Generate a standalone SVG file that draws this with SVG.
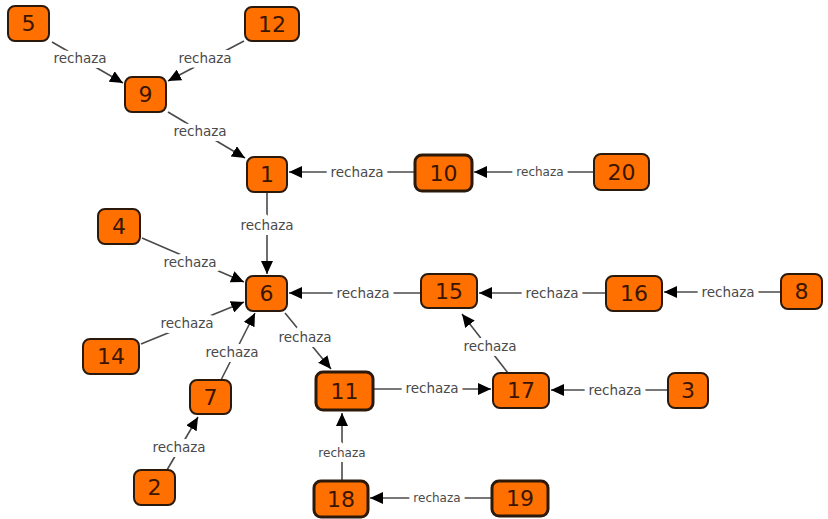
<svg xmlns="http://www.w3.org/2000/svg" width="828" height="519" viewBox="0 0 828 519">
  <style>
    .node rect { fill: #ff7000; stroke: #2b1a0c; stroke-width: 2; }
    .node.thick rect { stroke-width: 3; }
    .node text { font-family: "DejaVu Sans", Verdana, sans-serif; font-size: 22px; fill: #3a1500; text-anchor: middle; dominant-baseline: central; }
    .edge line { stroke: #4a4a4a; stroke-width: 1.6; marker-end: url(#arrow); }
    .edge text { font-family: "DejaVu Sans", Verdana, sans-serif; font-size: 13.5px; fill: #4a4a4a; text-anchor: middle; dominant-baseline: central; stroke: #ffffff; stroke-width: 10; paint-order: stroke; stroke-linejoin: round; }
    .edge text.sm { font-size: 12px; }
  </style>
  <defs>
    <marker id="arrow" markerUnits="userSpaceOnUse" markerWidth="14" markerHeight="12" refX="13" refY="6" orient="auto">
      <path d="M0,0 L13,6 L0,12 z" fill="#000"/>
    </marker>
  </defs>
  <rect width="828" height="519" fill="#ffffff"/>

  <g id="connectors">
    <g class="edge"><line x1="52" y1="42" x2="123" y2="83"/><text x="80" y="58">rechaza</text></g>
    <g class="edge"><line x1="244" y1="41" x2="168" y2="81"/><text x="205" y="58">rechaza</text></g>
    <g class="edge"><line x1="168" y1="112" x2="245" y2="158"/><text x="200" y="131">rechaza</text></g>
    <g class="edge"><line x1="414" y1="172" x2="289" y2="172"/><text x="357" y="172">rechaza</text></g>
    <g class="edge"><line x1="593" y1="172" x2="474" y2="172"/><text class="sm" x="540" y="172">rechaza</text></g>
    <g class="edge"><line x1="267" y1="193" x2="267" y2="274"/><text x="267" y="225">rechaza</text></g>
    <g class="edge"><line x1="142" y1="238" x2="244" y2="282"/><text x="190" y="262">rechaza</text></g>
    <g class="edge"><line x1="141" y1="344" x2="244" y2="302"/><text x="187" y="323">rechaza</text></g>
    <g class="edge"><line x1="221" y1="380" x2="255" y2="313"/><text x="232" y="352">rechaza</text></g>
    <g class="edge"><line x1="167" y1="470" x2="198" y2="417"/><text x="179" y="447">rechaza</text></g>
    <g class="edge"><line x1="285" y1="313" x2="331" y2="369"/><text x="305" y="337">rechaza</text></g>
    <g class="edge"><line x1="421" y1="293" x2="289" y2="293"/><text x="363" y="293">rechaza</text></g>
    <g class="edge"><line x1="606" y1="293" x2="479" y2="293"/><text x="552" y="293">rechaza</text></g>
    <g class="edge"><line x1="781" y1="292" x2="664" y2="292"/><text x="728" y="292">rechaza</text></g>
    <g class="edge"><line x1="374" y1="389" x2="491" y2="389"/><text x="432" y="388">rechaza</text></g>
    <g class="edge"><line x1="668" y1="390" x2="551" y2="390"/><text x="615" y="390">rechaza</text></g>
    <g class="edge"><line x1="508" y1="373" x2="462" y2="314"/><text x="490" y="346">rechaza</text></g>
    <g class="edge"><line x1="342" y1="480" x2="342" y2="413"/><text class="sm" x="342" y="453">rechaza</text></g>
    <g class="edge"><line x1="491" y1="498" x2="370" y2="498"/><text class="sm" x="437" y="498">rechaza</text></g>
  </g>

  <g id="n5" class="node"><rect x="8" y="6" width="41" height="35" rx="7"/><text x="28.5" y="23.5">5</text></g>
  <g id="n12" class="node"><rect x="245" y="7" width="54" height="34" rx="7"/><text x="272" y="24">12</text></g>
  <g id="n9" class="node"><rect x="125" y="77" width="41" height="35" rx="7"/><text x="145.5" y="94.5">9</text></g>
  <g id="n1" class="node"><rect x="247" y="157" width="40" height="35" rx="7"/><text x="267" y="174.5">1</text></g>
  <g id="n10" class="node thick"><rect x="415" y="155" width="57" height="36" rx="7"/><text x="443.5" y="173">10</text></g>
  <g id="n20" class="node"><rect x="594" y="154" width="55" height="36" rx="7"/><text x="621.5" y="172">20</text></g>
  <g id="n4" class="node"><rect x="98" y="209" width="42" height="35" rx="7"/><text x="119" y="226.5">4</text></g>
  <g id="n6" class="node"><rect x="246" y="276" width="41" height="35" rx="7"/><text x="266.5" y="293.5">6</text></g>
  <g id="n14" class="node"><rect x="83" y="339" width="56" height="35" rx="7"/><text x="111" y="356.5">14</text></g>
  <g id="n7" class="node"><rect x="190" y="380" width="41" height="34" rx="7"/><text x="210.5" y="397">7</text></g>
  <g id="n2" class="node"><rect x="134" y="470" width="41" height="35" rx="7"/><text x="154.5" y="487.5">2</text></g>
  <g id="n11" class="node thick"><rect x="316" y="372" width="57" height="38" rx="7"/><text x="344.5" y="391">11</text></g>
  <g id="n15" class="node"><rect x="421" y="274" width="56" height="34" rx="7"/><text x="449" y="291">15</text></g>
  <g id="n16" class="node"><rect x="606" y="276" width="56" height="35" rx="7"/><text x="634" y="293.5">16</text></g>
  <g id="n8" class="node"><rect x="781" y="274" width="41" height="35" rx="7"/><text x="801.5" y="291.5">8</text></g>
  <g id="n17" class="node"><rect x="493" y="373" width="56" height="35" rx="7"/><text x="521" y="390.5">17</text></g>
  <g id="n3" class="node"><rect x="668" y="373" width="40" height="35" rx="7"/><text x="688" y="390.5">3</text></g>
  <g id="n18" class="node thick"><rect x="314" y="481" width="54" height="36" rx="7"/><text x="341" y="499">18</text></g>
  <g id="n19" class="node thick"><rect x="492" y="481" width="56" height="35" rx="7"/><text x="520" y="498.5">19</text></g>
</svg>
